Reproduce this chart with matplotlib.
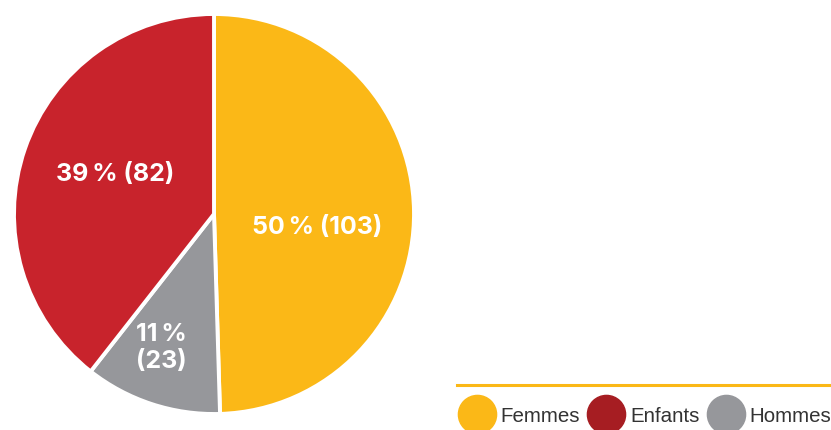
import matplotlib.pyplot as plt
from matplotlib.lines import Line2D

# data
categories = ["Femmes", "Hommes", "Enfants"]
counts = [103, 23, 82]
pie_colors = ["#FBB817", "#96979B", "#C8232C"]

legend_labels = ["Femmes", "Enfants", "Hommes"]
legend_colors = ["#FBB817", "#A61D22", "#96979B"]

W, H = 831, 431
fig = plt.figure(figsize=(W / 100, H / 100), dpi=100)

# pie axes: circle of radius ~200 px centred at (214, 215)
ax = fig.add_axes([14 / W, 16 / H, 400 / W, 400 / H])
wedges, _ = ax.pie(counts, colors=pie_colors, startangle=90, counterclock=False,
                   radius=1, wedgeprops=dict(edgecolor="white", linewidth=2.8))
ax.set_xlim(-1, 1)
ax.set_ylim(-1, 1)
ax.set_aspect("equal")
ax.axis("off")

total = sum(counts)
pct = [round(100 * c / total) for c in counts]
lab_pos = [(0.515, -0.065), (-0.265, -0.665), (-0.495, 0.2)]
lab_fmt = ["{p}\u2009% ({c})", "{p}\u2009%\n({c})", "{p}\u2009% ({c})"]
for p, c, pos, fmt in zip(pct, counts, lab_pos, lab_fmt):
    ax.text(pos[0], pos[1], fmt.format(p=p, c=c), ha="center", va="center",
            color="white", fontsize=18, fontweight="bold",
            family=["Inter", "DejaVu Sans"], linespacing=1.2)

# yellow rule above legend
fig.add_artist(Line2D([457 / W, 1], [1 - 386 / H] * 2, color="#FBB817", lw=2.2))

handles = [Line2D([], [], marker="o", ls="none", markersize=27.5,
                  markerfacecolor=c, markeredgecolor=c) for c in legend_colors]
leg = fig.legend(handles, legend_labels, loc="center left",
                 bbox_to_anchor=(457 / W, 14 / H), ncol=3, frameon=False,
                 handlelength=1.9, handletextpad=0.2, columnspacing=0.35,
                 borderaxespad=0, borderpad=0,
                 prop=dict(family="Liberation Sans", size=14.8))
for t in leg.get_texts():
    t.set_color("#333333")

fig.savefig("out.png", dpi=100)
